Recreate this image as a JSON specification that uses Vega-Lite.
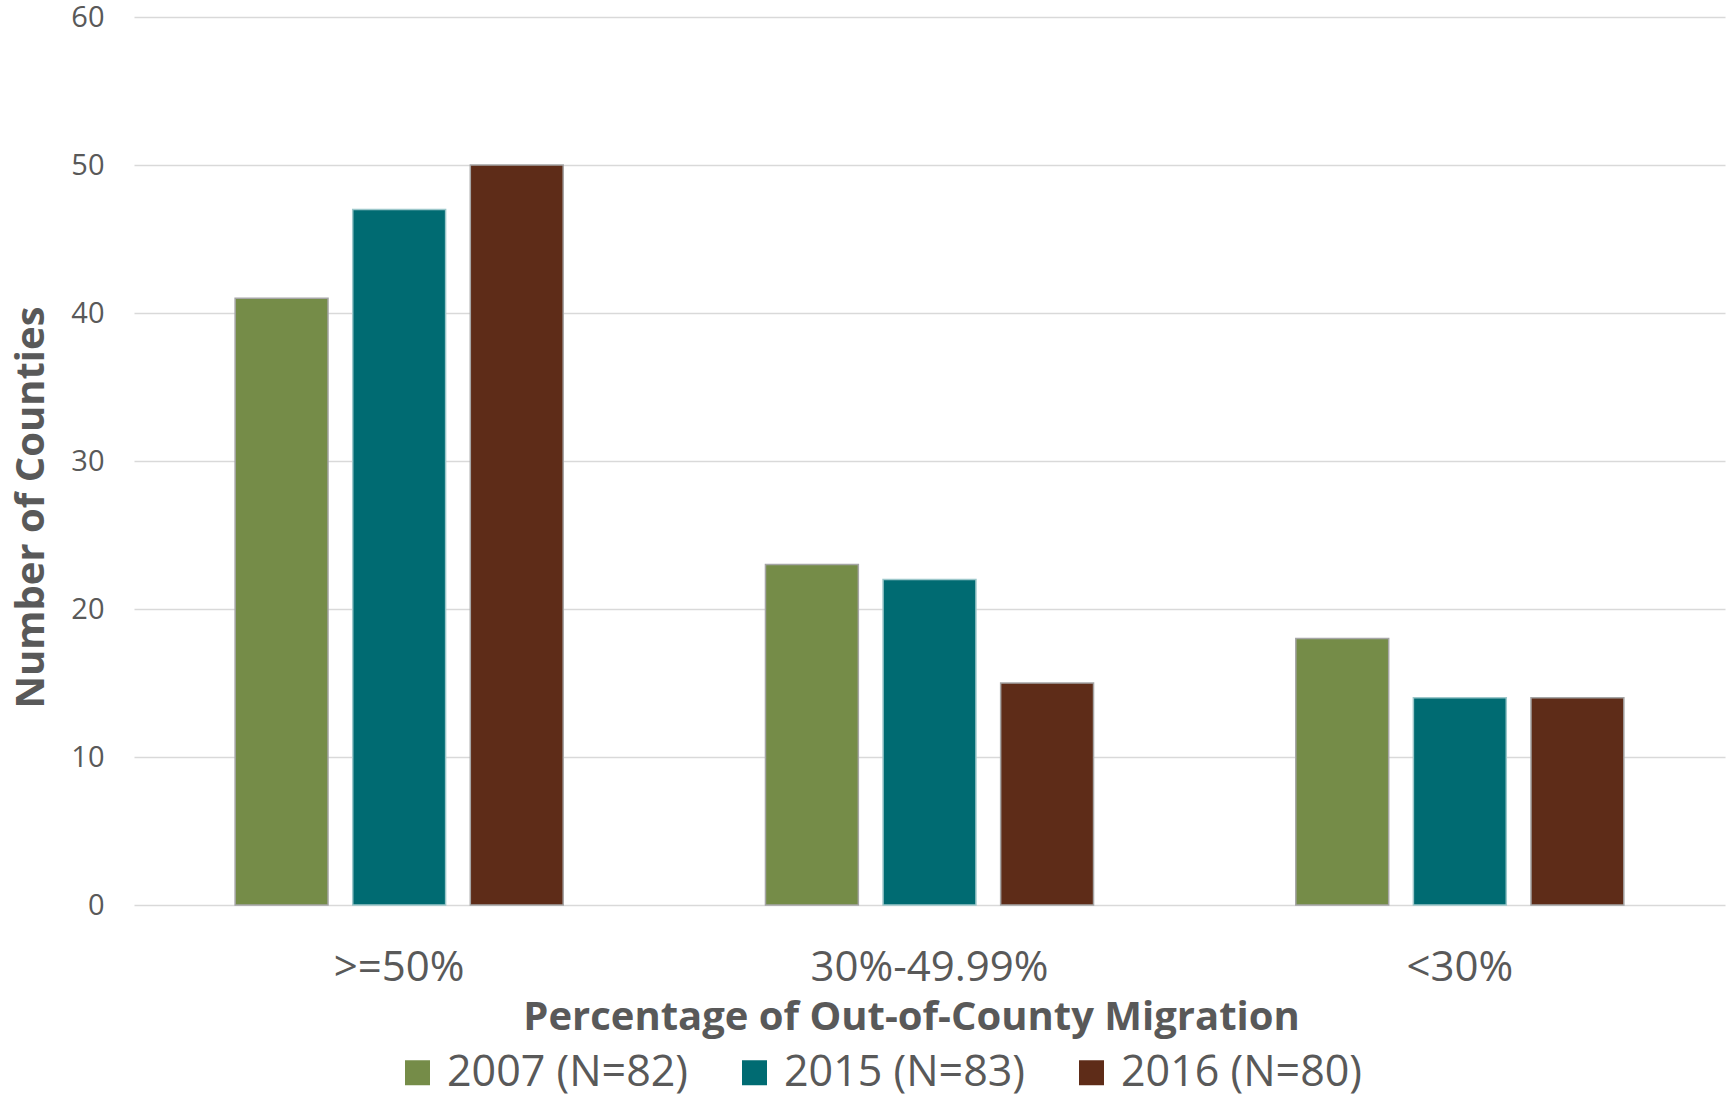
{
  "$schema": "https://vega.github.io/schema/vega-lite/v6.json",
  "autosize": {"type": "none"},
  "width": 1591,
  "height": 888,
  "padding": {"left": 134, "top": 17, "right": 4, "bottom": 190},
  "background": "white",
  "config": {
    "view": {"stroke": null},
    "font": "Open Sans"
  },
  "data": {
    "values": [
      {"cat": ">=50%", "year": "2007 (N=82)", "count": 41},
      {"cat": ">=50%", "year": "2015 (N=83)", "count": 47},
      {"cat": ">=50%", "year": "2016 (N=80)", "count": 50},
      {"cat": "30%-49.99%", "year": "2007 (N=82)", "count": 23},
      {"cat": "30%-49.99%", "year": "2015 (N=83)", "count": 22},
      {"cat": "30%-49.99%", "year": "2016 (N=80)", "count": 15},
      {"cat": "<30%", "year": "2007 (N=82)", "count": 18},
      {"cat": "<30%", "year": "2015 (N=83)", "count": 14},
      {"cat": "<30%", "year": "2016 (N=80)", "count": 14}
    ]
  },
  "mark": {"type": "bar", "strokeWidth": 1.5},
  "encoding": {
    "x": {
      "field": "cat",
      "type": "nominal",
      "sort": [">=50%", "30%-49.99%", "<30%"],
      "scale": {"paddingInner": 0, "paddingOuter": 0},
      "axis": {
        "title": "Percentage of Out-of-County Migration",
        "titleFont": "Open Sans",
        "titleFontSize": 40,
        "titleFontWeight": "bold",
        "titleColor": "#595959",
        "titlePadding": 9,
        "titleX": 777,
        "labelAngle": 0,
        "labelFont": "Open Sans",
        "labelFontSize": 42,
        "labelColor": "#595959",
        "labelPadding": 42,
        "labelLimit": 0,
        "ticks": false,
        "domain": false,
        "grid": false
      }
    },
    "xOffset": {
      "field": "year",
      "type": "nominal",
      "scale": {"paddingInner": 0.21, "paddingOuter": 0.86}
    },
    "y": {
      "field": "count",
      "type": "quantitative",
      "scale": {"domain": [0, 60], "nice": false},
      "axis": {
        "values": [0, 10, 20, 30, 40, 50, 60],
        "title": "Number of Counties",
        "titleFont": "Open Sans",
        "titleFontSize": 40,
        "titleFontWeight": "bold",
        "titleColor": "#595959",
        "titleAngle": -90,
        "titleBaseline": "alphabetic",
        "titleX": -91,
        "titleY": 490,
        "labelFont": "Open Sans",
        "labelFontSize": 29,
        "labelColor": "#595959",
        "labelPadding": 30,
        "ticks": false,
        "domain": false,
        "grid": true,
        "gridColor": "#d9d9d9",
        "gridWidth": 1.5
      }
    },
    "color": {
      "field": "year",
      "type": "nominal",
      "scale": {
        "domain": ["2007 (N=82)", "2015 (N=83)", "2016 (N=80)"],
        "range": ["#758c48", "#006b72", "#5e2c18"]
      },
      "legend": {
        "title": null,
        "orient": "none",
        "direction": "horizontal",
        "legendX": 262,
        "legendY": 1034,
        "symbolType": "square",
        "symbolSize": 625,
        "symbolStrokeWidth": 0,
        "labelFont": "Open Sans",
        "labelFontSize": 43,
        "labelColor": "#595959",
        "labelOffset": 8,
        "labelLimit": 0,
        "columnPadding": 44,
        "padding": 0
      }
    },
    "stroke": {
      "field": "year",
      "type": "nominal",
      "scale": {
        "domain": ["2007 (N=82)", "2015 (N=83)", "2016 (N=80)"],
        "range": ["#a5a5a5", "#9cc7ca", "#a5a5a5"]
      },
      "legend": null
    }
  }
}
